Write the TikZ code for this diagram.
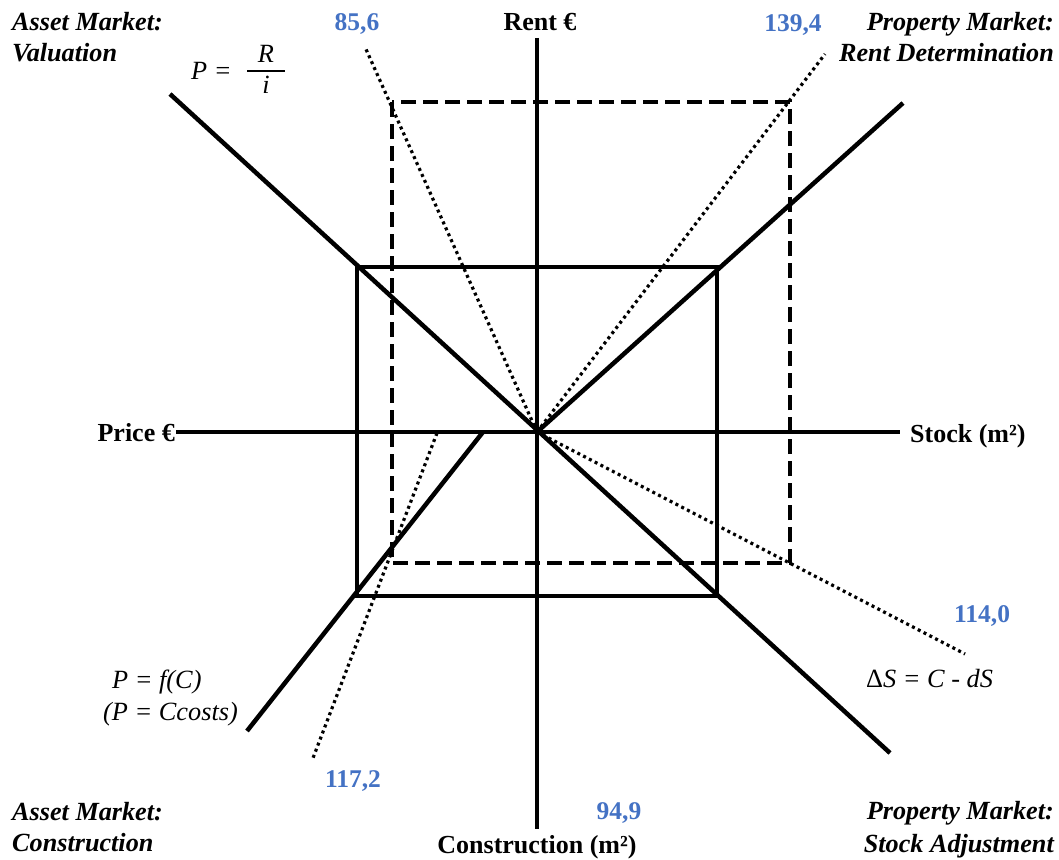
\documentclass[tikz,border=0pt]{standalone}
\usepackage{fontspec}
\setmainfont{Liberation Serif}
\definecolor{numblue}{HTML}{4472C4}
\begin{document}
\begin{tikzpicture}[x=1pt,y=-1pt,
  thickline/.style={line width=4.5pt},
  dashline/.style={line width=4pt, dash pattern=on 15pt off 7pt},
  dotline/.style={line width=3.2pt, dash pattern=on 3pt off 3.5pt},
  corner/.style={font=\fontsize{26.2}{31}\selectfont\bfseries\itshape, inner sep=0pt},
  num/.style={font=\fontsize{25.5}{30}\selectfont\bfseries, text=numblue, inner sep=0pt},
  axlabel/.style={font=\fontsize{26}{30}\selectfont\bfseries, inner sep=0pt},
  formula/.style={font=\fontsize{26.3}{30}\selectfont\itshape, inner sep=0pt}]
\useasboundingbox (0,0) rectangle (1059,859);

% key points
\coordinate (O) at (537,432);
\coordinate (vtop) at (537,38);
\coordinate (vbot) at (537,829);
\coordinate (hleft) at (176,432);
\coordinate (hright) at (900,432);

% solid rectangle and dashed rectangle
\coordinate (r1) at (357,267);
\coordinate (r2) at (717,596);
\coordinate (d1) at (392,102);
\coordinate (d2) at (790,563);

% axes
\draw[thickline] (vtop) -- (vbot);
\draw[thickline] (hleft) -- (hright);

% curves
\coordinate (valA) at (170,94);
\coordinate (valB) at (890,753);
\coordinate (rentEnd) at (903,103);
\coordinate (conA) at (483,432);
\coordinate (conB) at (247,731);
\draw[thickline] (valA) -- (valB);
\draw[thickline] (O) -- (rentEnd);
\draw[thickline] (conA) -- (conB);

\draw[thickline] (r1) rectangle (r2);
\draw[dashline] (d1) rectangle (d2);

% dotted lines
\coordinate (dt1) at (365,47);
\coordinate (dt2) at (825,54);
\coordinate (dt3) at (965,654);
\coordinate (dt4a) at (437,433);
\coordinate (dt4b) at (313,758);
\draw[dotline] (O) -- (dt1);
\draw[dotline] (O) -- (dt2);
\draw[dotline] (O) -- (dt3);
\draw[dotline] (dt4a) -- (dt4b);

% corner labels
\node[corner, anchor=base west] (tl1) at (12,31) {Asset Market:};
\node[corner, anchor=base west] (tl2) at (12,62) {Valuation};
\node[corner, anchor=base east] (tr1) at (1054,31) {Property Market:};
\node[corner, anchor=base east] (tr2) at (1054,62) {Rent Determination};
\node[corner, anchor=base west] (bl1) at (12,820) {Asset Market:};
\node[corner, anchor=base west] (bl2) at (12,851) {Construction};
\node[corner, anchor=base east] (br1) at (1054,819) {Property Market:};
\node[corner, anchor=base east] (br2) at (1054,852) {Stock Adjustment};

% axis labels
\node[axlabel, anchor=base] (rent) at (540,31) {Rent €};
\node[axlabel, anchor=base east] (price) at (175,441) {Price €};
\node[axlabel, anchor=base west] (stock) at (910,442) {Stock (m²)};
\node[axlabel, anchor=base] (constr) at (537,853) {Construction (m²)};

% numbers
\node[num, anchor=base] (n1) at (357,31) {85,6};
\node[num, anchor=base] (n2) at (793,32) {139,4};
\node[num, anchor=base] (n3) at (982,622) {114,0};
\node[num, anchor=base] (n4) at (353,787) {117,2};
\node[num, anchor=base] (n5) at (619,819) {94,9};

% formulas
\node[formula, anchor=base west] (fP) at (191,79) {P =};
\node[formula, anchor=base] (fR) at (266,63) {R};
\node[formula, anchor=base] (fi) at (266,93) {i};
\coordinate (barA) at (247,71);
\coordinate (barB) at (285,71);
\draw[line width=1.6pt] (barA) -- (barB);
\node[formula, anchor=base west] (fc1) at (112,688) {P = f(C)};
\node[formula, anchor=base west] (fc2) at (103,720) {(P = Ccosts)};
\node[formula, anchor=base west] (fs) at (866,687) {{\upshape Δ}S = C - dS};
\end{tikzpicture}
\end{document}
